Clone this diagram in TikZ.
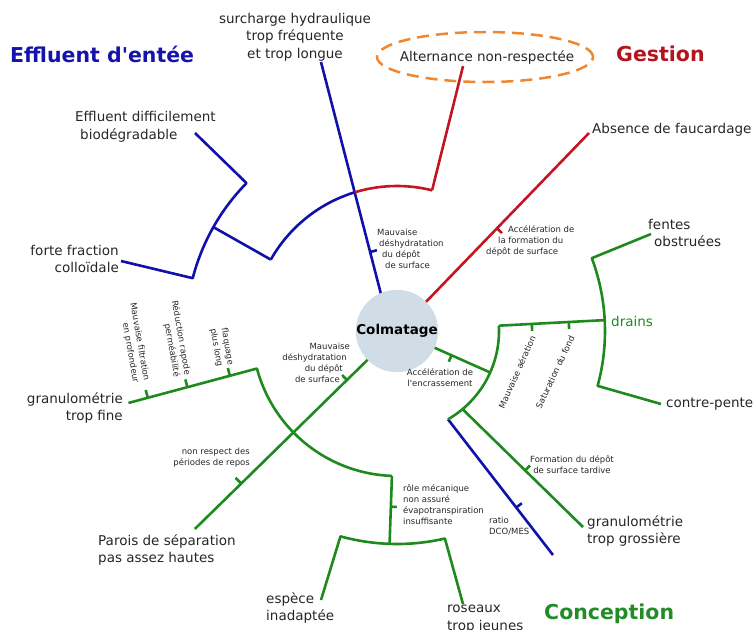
\documentclass[tikz,border=0pt]{standalone}
\usepackage{fontspec}
\setmainfont{DejaVu Sans}[Ligatures=TeXOff]
\usetikzlibrary{calc}
\definecolor{cblue}{RGB}{16,16,170}
\definecolor{cred}{RGB}{196,22,34}
\definecolor{cgreen}{RGB}{30,138,30}
\definecolor{corange}{RGB}{240,134,46}
\definecolor{cfill}{RGB}{208,221,230}
\definecolor{ctxt}{RGB}{38,38,38}
\definecolor{tblue}{RGB}{20,20,170}
\definecolor{tred}{RGB}{180,20,30}
\definecolor{tgreen}{RGB}{34,140,40}
\begin{document}
\begin{tikzpicture}[x=1pt,y=-1pt,
  ln/.style={line width=2.6pt, line join=round},
  bl/.style={ln, draw=cblue}, rd/.style={ln, draw=cred}, gr/.style={ln, draw=cgreen},
  lab/.style={font=\fontsize{13.5}{17.5}\selectfont, text=ctxt, inner sep=0pt},
  sm/.style={font=\fontsize{8.5}{11}\selectfont, text=ctxt, inner sep=0pt},
  ttl/.style={font=\fontsize{20.5}{24}\selectfont\bfseries, inner sep=0pt},
  od/.style={draw=corange, line width=2.5pt, dash pattern=on 12pt off 7pt}]
\useasboundingbox (0,0) rectangle (756,630);
\coordinate (O) at (397,331);

% ---------- titles
\node[ttl, text=tblue, anchor=west] (t1) at (10,54) {Effluent d'entée};
\node[ttl, text=tred, anchor=west] (t2) at (616,54) {Gestion};
\node[ttl, text=tgreen, anchor=west] (t3) at (544,614) {Conception};

% ---------- blue (effluent)
\coordinate (b0) at (382,298);
\coordinate (b2) at (321,62);
\draw[bl] (b0) -- (b2);
\coordinate (bt) at ($(b0)!0.195!(b2)$);
\draw[bl] (bt) -- ($(bt)!7pt!-90:(b2)$);
\draw[bl] plot[domain=150.5:107, samples=30] ({397+145*cos(\x)},{331-145*sin(\x)});
\draw[bl] ($(O)+(-150.5:145)$) -- ($(O)+(-150.5:211)$);
\coordinate (eb) at (195,133);
\coordinate (fb) at (121,261);
\draw[bl] (eb) -- plot[domain=135.5:165.5, samples=30] ({397+211*cos(\x)},{331-211*sin(\x)}) -- (fb);
\coordinate (r0) at ($(O)+(60:102)$);
\coordinate (r1) at (553,555);
\draw[bl] (r0) -- (r1);
\coordinate (rt) at ($(r0)!0.65!(r1)$);
\draw[bl] (rt) -- ($(rt)!7pt!90:(r1)$);

% ---------- red (gestion)
\draw[rd] plot[domain=107:76, samples=20] ({397+145*cos(\x)},{331-145*sin(\x)});
\coordinate (a0) at ($(O)+(-76:145)$);
\coordinate (a1) at ($(O)+(-76:273)$);
\draw[rd] (a0) -- (a1);
\coordinate (f0) at ($(O)+(-45:35)$);
\coordinate (f1) at (589,133);
\draw[rd] (f0) -- (f1);
\coordinate (ft) at ($(f0)!0.45!(f1)$);
\draw[rd] (ft) -- ($(ft)!7pt!-90:(f1)$);
\draw[od] (485,57) ellipse [x radius=108pt, y radius=25pt];

% ---------- green (conception), right part
\coordinate (e0) at ($(O)+(24:35)$);
\coordinate (e1) at ($(O)+(24:102)$);
\draw[gr] (e0) -- (e1);
\coordinate (et) at ($(e0)!0.37!(e1)$);
\draw[gr] (et) -- ($(et)!7pt!-90:(e1)$);
\draw[gr] plot[domain=3:-60, samples=30] ({397+102*cos(\x)},{331-102*sin(\x)});
\coordinate (h0) at ($(O)+(-3:102)$);
\coordinate (h1) at ($(O)+(-3:208)$);
\draw[gr] (h0) -- (h1);
\coordinate (ht1) at ($(O)+(-3:135)$);
\coordinate (ht2) at ($(O)+(-3:172)$);
\draw[gr] (ht1) -- ($(ht1)!7pt!-90:(h1)$);
\draw[gr] (ht2) -- ($(ht2)!7pt!-90:(h1)$);
\coordinate (fe) at (651,234);
\coordinate (cpe) at (661,404);
\draw[gr] (fe) -- plot[domain=20.5:-15.3, samples=30] ({397+208*cos(\x)},{331-208*sin(\x)}) -- (cpe);
\coordinate (g0) at ($(O)+(50:102)$);
\coordinate (g1) at (583,527);
\draw[gr] (g0) -- (g1);
\coordinate (gt) at ($(g0)!0.52!(g1)$);
\draw[gr] (gt) -- ($(gt)!7pt!90:(g1)$);

% ---------- green, left / bottom part
\coordinate (d0) at ($(O)+(135.6:35)$);
\coordinate (d1) at ($(O)+(135.6:283)$);
\draw[gr] (d0) -- (d1);
\coordinate (dt1) at ($(O)+(135.6:70)$);
\coordinate (dt2) at ($(O)+(135.6:218)$);
\draw[gr] (dt1) -- ($(dt1)!7pt!-90:(d1)$);
\draw[gr] (dt2) -- ($(dt2)!8pt!-90:(d1)$);
\coordinate (l1) at ($(O)+(-195:278)$);
\draw[gr] (l1) -- plot[domain=195:268, samples=40] ({397+145*cos(\x)},{331-145*sin(\x)});
\foreach \r/\n in {258/la,217/lb,173/lc}{
  \coordinate (\n) at ($(O)+(-195:\r)$);
  \draw[gr] (\n) -- ($(\n)!8pt!-90:(l1)$);
}
\coordinate (v0) at ($(O)+(-268:145)$);
\coordinate (v1) at ($(O)+(-268:212)$);
\draw[gr] (v0) -- (v1);
\coordinate (vt) at ($(v0)!0.46!(v1)$);
\draw[gr] (vt) -- ($(vt)!6pt!90:(v1)$);
\coordinate (es) at (321,600);
\coordinate (ro) at (463,604);
\draw[gr] (es) -- plot[domain=254.6:283, samples=30] ({397+213*cos(\x)},{331-213*sin(\x)}) -- (ro);

% ---------- centre
\node[circle, fill=cfill, minimum size=70pt, inner sep=0pt,
      font=\fontsize{13.5}{16}\selectfont\bfseries] (C) at (O) {Colmatage};

% ---------- main labels
\node[lab, align=center] (surch) at (295,37) {surcharge hydraulique\\trop fréquente\\et trop longue};
\node[lab] (alt) at (487,58) {Alternance non-respectée};
\node[lab, anchor=west] (abs) at (592,130) {Absence de faucardage};
\node[lab, align=left, anchor=west] (eff) at (75,127) {Effluent difficilement\\\hspace*{5pt}biodégradable};
\node[lab, align=right, anchor=east] (forte) at (119,259) {forte fraction\\colloïdale};
\node[lab, align=right, anchor=east] (gfine) at (123,408) {granulométrie\\trop fine};
\node[lab, align=left, anchor=west] (parois) at (98,550) {Parois de séparation\\pas assez hautes};
\node[lab, align=left, anchor=west] (esp) at (266,608) {espèce\\inadaptée};
\node[lab, align=left, anchor=west] (ros) at (447,619) {roseaux\\trop jeunes};
\node[lab, align=left, anchor=west] (ggros) at (587,531) {granulométrie\\trop grossière};
\node[lab, anchor=west] (cp) at (666,404) {contre-pente};
\node[lab, align=left, anchor=west] (fentes) at (648,233) {fentes\\\hspace*{6pt}obstruées};
\node[lab, text=cgreen, anchor=west] (drains) at (611,321) {drains};

% ---------- small labels
\node[sm, align=left, anchor=west] (bmd) at (377,249) {Mauvaise\\\hspace*{2pt}déshydratation\\\hspace*{5pt}du dépôt\\\hspace*{8pt}de surface};
\node[sm, align=right, anchor=east] (gmd) at (350,363) {Mauvaise\\déshydratation\kern3pt\\du dépôt\kern7pt\\de surface\kern10pt};
\node[sm, align=left, anchor=west] (accf) at (486,241) {\hspace*{22pt}Accélération de\\\hspace*{12pt}la formation du\\dépôt de surface};
\node[sm, align=center] (acce) at (440,378) {Accélération de\\l'encrassement};
\node[sm, align=center] (form) at (572,465) {Formation du dépôt\\de surface tardive};
\node[sm, align=left, anchor=west] (role) at (403,505) {rôle mécanique\\non assuré\\évapotranspiration\\insuffisante};
\node[sm, align=left, anchor=west] (ratio) at (489,526) {ratio\\DCO/MES};
\node[sm, align=right, anchor=east] (nrp) at (250,457.5) {non respect des\\périodes de repos};
\node[sm, align=right, rotate=-80, anchor=east] (mf) at (141,382) {Mauvaise filtration\\en profondeur};
\node[sm, align=right, rotate=-80, anchor=east] (rr) at (182,376) {Réduction rapode\\perméabilité};
\node[sm, align=right, rotate=-80, anchor=east] (fl) at (225,366) {flaquage\\plus long};
\node[sm, rotate=66, anchor=east] (ma) at (533,336) {Mauvaise aération};
\node[sm, rotate=65, anchor=east] (sf) at (572,336) {Saturation du fond};
\end{tikzpicture}
\end{document}
